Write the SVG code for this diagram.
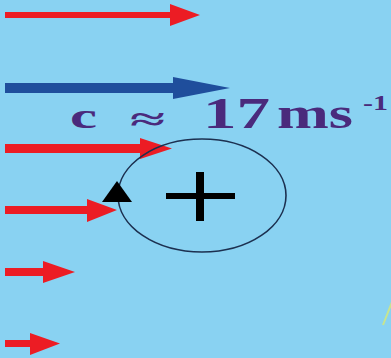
<svg xmlns="http://www.w3.org/2000/svg" width="391" height="358" viewBox="0 0 391 358">
<style>
.red{fill:#ec1c24}
.blue{fill:#1f4e9c}
.lbl{font-family:"Liberation Serif","DejaVu Serif",serif;font-weight:bold;fill:#4a2a7c}
</style>
<rect width="391" height="358" fill="#89d2f2"/>
<g id="connectors">
<polygon id="arrow1" class="red" points="5,12 170,12 170,4 200,15 170,26 170,18 5,18"/>
<polygon id="arrow2" class="blue" points="5,83 173,83 173,77 230,88 173,99 173,93 5,93"/>
<polygon id="arrow3" class="red" points="5,144 140,144 140,138 172,148.5 140,159 140,153 5,153"/>
<polygon id="arrow4" class="red" points="5,206 87,206 87,199 117,210 87,222 87,214 5,214"/>
<polygon id="arrow5" class="red" points="5,268 43,268 43,261 75,272 43,283 43,276 5,276"/>
<polygon id="arrow6" class="red" points="5,340 30,340 30,333 60,343.5 30,355 30,347 5,347"/>
</g>
<g id="label">
<text class="lbl" x="70" y="128" font-size="36" textLength="27" lengthAdjust="spacingAndGlyphs">c</text>
<text class="lbl" x="130" y="130" font-size="32" textLength="35" lengthAdjust="spacingAndGlyphs">≈</text>
<text class="lbl" x="203" y="128" font-size="45" textLength="67" lengthAdjust="spacingAndGlyphs">17</text>
<text class="lbl" x="277" y="128" font-size="44" textLength="76" lengthAdjust="spacingAndGlyphs">ms</text>
<text class="lbl" x="363" y="110" font-size="20" textLength="25" lengthAdjust="spacingAndGlyphs">-1</text>
</g>
<g id="charge">
<ellipse cx="202" cy="195.5" rx="84" ry="56.5" fill="none" stroke="#1c3050" stroke-width="1.6"/>
<rect x="196" y="172" width="8" height="49" fill="#000"/>
<rect x="166" y="193" width="69" height="6" fill="#000"/>
<polygon points="117,181 102,202 132,202" fill="#000"/>
</g>
<line x1="392" y1="302" x2="383" y2="325" stroke="#d6ea78" stroke-width="2" opacity="0.8"/>
</svg>
